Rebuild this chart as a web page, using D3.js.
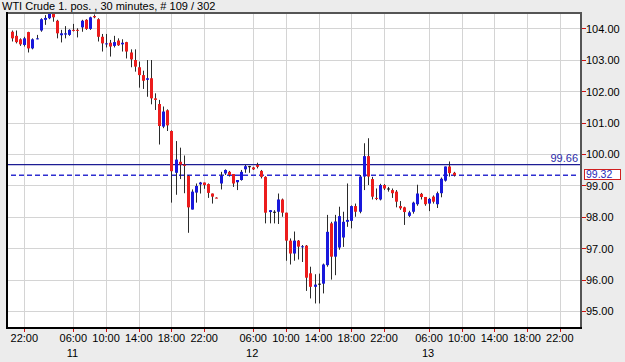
<!DOCTYPE html>
<html>
<head>
<meta charset="utf-8">
<script src="https://cdn.jsdelivr.net/npm/d3@7"></script>
<style>
  body { margin: 0; background: #ececec; }
  svg { display: block; }
</style>
</head>
<body>
<div id="chart"></div>
<script>
// chart size
const w = 625;
const h = 362;
const plotLeft = 7, plotRight = 581, plotTop = 13, plotBottom = 328;

// 30 minute bars, numbered from the first one shown (session gaps left out)
const open  = [103.89,103.76,103.65,103.47,103.88,103.36,103.66,103.93,104.27,104.32,104.60,104.24,103.78,103.80,103.79,103.95,103.95,104.03,104.27,103.98,104.39,104.29,103.73,103.49,103.54,103.44,103.61,103.49,103.56,103.23,102.99,102.76,102.51,102.36,102.41,101.77,101.59,100.87,101.39,100.73,99.40,99.75,99.66,99.30,98.23,98.77,99.03,99.09,99.04,98.74,98.61,99.06,99.38,99.43,99.36,99.10,99.17,99.51,99.61,99.57,99.65,99.46,99.27,98.15,98.16,98.16,98.55,98.13,97.24,96.83,97.24,97.03,97.08,96.20,95.77,95.87,95.87,96.46,97.79,96.73,97.02,97.34,97.84,97.87,98.34,98.16,99.28,99.93,99.20,98.60,98.55,99.01,98.90,98.85,98.80,98.34,98.30,98.03,98.16,98.40,98.73,98.63,98.42,98.64,98.40,98.75,99.15,99.60,99.40];
const high  = [103.93,103.93,103.68,103.73,103.89,103.68,103.79,104.32,104.42,104.60,104.65,104.27,103.95,104.07,103.97,104.14,104.00,104.27,104.29,104.37,104.44,104.32,103.82,103.82,103.63,103.76,103.68,103.65,103.57,103.33,103.33,102.94,102.65,102.99,102.99,101.93,101.72,101.51,101.42,100.75,100.41,100.20,99.95,99.33,98.87,99.06,99.11,99.09,99.06,98.74,98.62,99.43,99.51,99.46,99.36,99.17,99.49,99.65,99.62,99.59,99.72,99.49,99.29,98.21,98.21,98.74,98.58,98.13,97.31,97.53,97.26,97.10,97.10,96.41,96.17,96.19,96.51,98.06,97.84,98.06,98.32,98.16,99.06,98.36,98.42,99.33,100.34,100.50,99.27,98.90,99.05,99.04,98.95,98.90,98.85,98.50,98.32,98.19,98.48,99.02,98.76,98.63,98.60,98.68,98.80,99.25,99.60,99.76,99.43];
const low   = [103.58,103.52,103.44,103.42,103.23,103.33,103.65,103.89,104.11,104.29,104.21,103.68,103.55,103.68,103.76,103.90,103.71,103.89,103.95,103.95,104.32,103.58,103.26,103.39,103.10,103.39,103.44,103.26,103.04,102.76,102.62,102.11,102.07,101.82,101.58,101.40,100.30,100.82,100.73,98.45,98.70,99.20,98.75,97.49,98.23,98.45,98.74,98.89,98.60,98.42,98.59,98.87,99.33,99.28,98.95,98.85,99.15,99.40,99.40,99.49,99.54,99.22,97.79,97.79,97.79,97.77,98.00,96.60,96.48,96.60,96.64,96.56,95.64,95.40,95.24,95.24,95.56,96.41,96.00,96.14,96.95,97.04,97.68,97.63,98.00,98.11,98.85,99.01,98.55,98.53,98.52,98.85,98.80,98.60,98.30,98.22,97.74,97.99,98.10,98.35,98.55,98.35,98.18,98.42,98.28,98.62,99.12,99.28,99.28];
const close = [103.68,103.56,103.49,103.68,103.36,103.65,103.68,104.29,104.33,104.55,104.35,103.84,103.84,103.84,103.95,103.93,103.94,104.24,103.98,104.35,104.35,103.73,103.52,103.52,103.42,103.56,103.46,103.54,103.26,103.01,102.78,102.51,102.33,102.41,101.77,101.72,100.89,101.35,100.91,99.45,99.82,99.66,99.62,98.30,98.80,98.98,99.09,99.01,98.76,98.64,98.60,99.30,99.49,99.33,99.06,99.17,99.43,99.61,99.61,99.51,99.59,99.27,98.13,98.21,98.16,98.55,98.13,97.24,96.83,97.24,97.05,97.06,96.06,95.77,95.84,95.87,96.48,97.52,96.73,97.85,98.02,97.84,97.90,98.34,98.16,99.28,99.93,99.28,98.64,98.58,99.01,98.90,98.90,98.75,98.48,98.27,98.15,98.14,98.45,98.74,98.63,98.40,98.57,98.48,98.75,99.21,99.60,99.39,99.32];

// time axis
const tickBars   = [3, 15, 23, 31, 39, 47, 59, 67, 75, 83, 91, 102, 110, 118, 126, 134];
const tickLabels = ['22:00','06:00','10:00','14:00','18:00','22:00','06:00','10:00','14:00','18:00','22:00','06:00','10:00','14:00','18:00','22:00'];
const dayBars   = [15, 59, 102];
const dayLabels = ['11', '12', '13'];

// price axis
const priceTicks = [95, 96, 97, 98, 99, 100, 101, 102, 103, 104];
const dayHigh = 99.66;
const lastPrice = 99.32;

const title = 'WTI Crude 1. pos. , 30 minutes, # 109 / 302';

const xScale = d3.scaleLinear()
                 .domain([-1.23, 139.18])
                 .range([plotLeft, plotRight]);

const yScale = d3.scaleLinear()
                 .domain([95, 104])
                 .range([311, 28.3]);

const svg = d3.select('#chart')
              .append('svg')
              .attr('width', w)
              .attr('height', h)
              .style('font-family', '"Liberation Sans", Arial, sans-serif');

svg.append('rect')
   .attr('width', w)
   .attr('height', h)
   .attr('fill', '#ececec');

svg.append('text')
   .attr('x', 2)
   .attr('y', 10)
   .style('font-size', '11px')
   .attr('fill', '#000')
   .text(title);

svg.append('clipPath')
   .attr('id', 'plot')
   .append('rect')
   .attr('x', plotLeft)
   .attr('y', plotTop)
   .attr('width', plotRight - plotLeft)
   .attr('height', plotBottom - plotTop);

svg.append('rect')
   .attr('x', plotLeft)
   .attr('y', plotTop)
   .attr('width', plotRight - plotLeft)
   .attr('height', plotBottom - plotTop)
   .attr('fill', '#fff');

const plot = svg.append('g').attr('clip-path', 'url(#plot)');

// grid
plot.selectAll('.hgrid')
    .data(priceTicks)
    .enter()
    .append('line')
    .attr('x1', plotLeft)
    .attr('x2', plotRight)
    .attr('y1', (d) => Math.round(yScale(d)) + 0.5)
    .attr('y2', (d) => Math.round(yScale(d)) + 0.5)
    .attr('stroke', '#d4d4d4');

plot.selectAll('.vgrid')
    .data(tickBars)
    .enter()
    .append('line')
    .attr('x1', (d) => Math.round(xScale(d)) + 0.5)
    .attr('x2', (d) => Math.round(xScale(d)) + 0.5)
    .attr('y1', plotTop)
    .attr('y2', plotBottom)
    .attr('stroke', '#d4d4d4');

// high line and last price line
plot.append('line')
    .attr('x1', plotLeft)
    .attr('x2', plotRight)
    .attr('y1', yScale(dayHigh))
    .attr('y2', yScale(dayHigh))
    .attr('stroke', '#1c1c94')
    .attr('stroke-width', 1.2);

plot.append('line')
    .attr('x1', 11)
    .attr('x2', plotRight - 3)
    .attr('y1', yScale(lastPrice))
    .attr('y2', yScale(lastPrice))
    .attr('stroke', '#2f2fd0')
    .attr('stroke-width', 1.6)
    .attr('stroke-dasharray', '5,3');

// candles
const bars = d3.range(open.length);

plot.selectAll('.wick')
    .data(bars)
    .enter()
    .append('line')
    .attr('x1', (i) => Math.round(xScale(i)) + 0.5)
    .attr('x2', (i) => Math.round(xScale(i)) + 0.5)
    .attr('y1', (i) => yScale(high[i]))
    .attr('y2', (i) => yScale(low[i]))
    .attr('stroke', '#2a2a2a')
    .attr('stroke-width', 1);

plot.selectAll('.body')
    .data(bars)
    .enter()
    .append('rect')
    .attr('x', (i) => Math.round(xScale(i)) - 1)
    .attr('width', 3)
    .attr('y', (i) => yScale(Math.max(open[i], close[i])))
    .attr('height', (i) => Math.max(1, Math.abs(yScale(open[i]) - yScale(close[i]))))
    .attr('fill', (i) => close[i] > open[i] ? '#1818dc' : (close[i] < open[i] ? '#ec1c1c' : '#111'));

// frame
svg.append('line')
   .attr('x1', plotLeft).attr('x2', plotRight)
   .attr('y1', plotTop).attr('y2', plotTop)
   .attr('stroke', '#555').attr('stroke-width', 2);
svg.append('line')
   .attr('x1', plotRight).attr('x2', plotRight)
   .attr('y1', plotTop - 1).attr('y2', plotBottom)
   .attr('stroke', '#555').attr('stroke-width', 2);
svg.append('line')
   .attr('x1', plotLeft).attr('x2', plotLeft)
   .attr('y1', plotTop - 1).attr('y2', plotBottom + 1)
   .attr('stroke', '#000').attr('stroke-width', 2);
svg.append('line')
   .attr('x1', plotLeft - 1).attr('x2', plotRight + 1)
   .attr('y1', plotBottom).attr('y2', plotBottom)
   .attr('stroke', '#000').attr('stroke-width', 2);

// price axis
svg.selectAll('.ytick')
   .data(priceTicks)
   .enter()
   .append('line')
   .attr('x1', plotRight + 1)
   .attr('x2', plotRight + 5)
   .attr('y1', (d) => Math.round(yScale(d)) + 0.5)
   .attr('y2', (d) => Math.round(yScale(d)) + 0.5)
   .attr('stroke', '#d01010');

svg.selectAll('.ylabel')
   .data(priceTicks)
   .enter()
   .append('text')
   .attr('x', plotRight + 5)
   .attr('y', (d) => yScale(d))
   .attr('dy', '0.4em')
   .style('font-size', '11px')
   .attr('fill', '#000')
   .text((d) => d3.format('.2f')(d));

svg.append('text')
   .attr('x', plotRight - 3)
   .attr('y', yScale(dayHigh) - 3)
   .attr('text-anchor', 'end')
   .style('font-size', '11px')
   .attr('fill', '#2a2aa8')
   .text(d3.format('.2f')(dayHigh));

svg.append('rect')
   .attr('x', 584.5)
   .attr('y', Math.round(yScale(lastPrice)) - 5.5)
   .attr('width', 36)
   .attr('height', 10)
   .attr('fill', '#fff')
   .attr('stroke', '#d02020');

svg.append('text')
   .attr('x', 586)
   .attr('y', yScale(lastPrice))
   .attr('dy', '0.3em')
   .style('font-size', '10.5px')
   .attr('fill', '#2a2ab8')
   .text(d3.format('.2f')(lastPrice));

// time axis
svg.selectAll('.xtick')
   .data(tickBars)
   .enter()
   .append('line')
   .attr('x1', (d) => Math.round(xScale(d)) + 0.5)
   .attr('x2', (d) => Math.round(xScale(d)) + 0.5)
   .attr('y1', plotBottom + 1)
   .attr('y2', plotBottom + 4)
   .attr('stroke', '#d01010');

svg.selectAll('.xlabel')
   .data(tickBars)
   .enter()
   .append('text')
   .attr('x', (d) => xScale(d))
   .attr('y', 342)
   .attr('text-anchor', 'middle')
   .style('font-size', '11px')
   .attr('fill', '#000')
   .text((d, i) => tickLabels[i]);

svg.selectAll('.daylabel')
   .data(dayBars)
   .enter()
   .append('text')
   .attr('x', (d) => xScale(d) - 1)
   .attr('y', 357)
   .attr('text-anchor', 'middle')
   .style('font-size', '11px')
   .attr('fill', '#000')
   .text((d, i) => dayLabels[i]);
</script>
</body>
</html>
